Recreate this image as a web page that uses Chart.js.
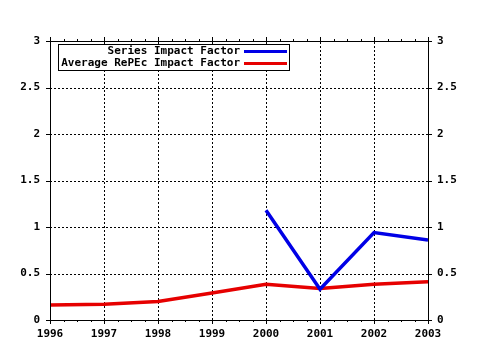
<!DOCTYPE html>
<html>
<head>
<meta charset="utf-8">
<script src="https://cdn.jsdelivr.net/npm/chart.js@4/dist/chart.umd.min.js"></script>
<style>
html,body{margin:0;padding:0;background:#fff;}
canvas{display:block;}
</style>
</head>
<body>
<canvas id="c" width="480" height="350"></canvas>
<script>
const years = [1996, 1997, 1998, 1999, 2000, 2001, 2002, 2003];
const seriesImpact = [null, null, null, null, 1.18, 0.33, 0.94, 0.86];
const averageImpact = [0.16, 0.17, 0.20, 0.29, 0.385, 0.34, 0.385, 0.41];
const yTicks = [0, 0.5, 1, 1.5, 2, 2.5, 3];
const yTickLabels = ['0', '0.5', '1', '1.5', '2', '2.5', '3'];
const xTickLabels = ['1996', '1997', '1998', '1999', '2000', '2001', '2002', '2003'];
const seriesNames = ['Series Impact Factor', 'Average RePEc Impact Factor'];
const seriesColors = ['#0000e6', '#e60000'];

const FONT = '"DejaVu Sans Mono", "Liberation Mono", monospace';

const gridPlugin = {
  id: 'dotgrid',
  beforeDatasetsDraw(chart) {
    const ctx = chart.ctx;
    const a = chart.chartArea;
    const xs = chart.scales.x, ys = chart.scales.y;
    ctx.save();
    ctx.strokeStyle = '#000';
    ctx.lineWidth = 1;
    ctx.setLineDash([2, 2]);
    ctx.beginPath();
    years.forEach(yr => {
      const px = Math.round(xs.getPixelForValue(yr)) + 0.5;
      ctx.moveTo(px, a.bottom); ctx.lineTo(px, a.top);
    });
    yTicks.forEach(v => {
      const py = Math.round(ys.getPixelForValue(v)) + 0.5;
      ctx.moveTo(a.left, py); ctx.lineTo(a.right, py);
    });
    ctx.stroke();
    ctx.restore();
  }
};

const framePlugin = {
  id: 'frame',
  afterDatasetsDraw(chart) {
    const ctx = chart.ctx;
    const a = chart.chartArea;
    const xs = chart.scales.x, ys = chart.scales.y;
    ctx.save();
    ctx.strokeStyle = '#000';
    ctx.lineWidth = 1;
    ctx.strokeRect(Math.round(a.left) + 0.5, Math.round(a.top) + 0.5,
                   Math.round(a.right - a.left), Math.round(a.bottom - a.top));
    ctx.beginPath();
    years.forEach((yr, i) => {
      const px = Math.round(xs.getPixelForValue(yr)) + 0.5;
      ctx.moveTo(px, a.bottom); ctx.lineTo(px, a.bottom + 4);
      ctx.moveTo(px, a.top); ctx.lineTo(px, a.top - 4);
      if (i < years.length - 1) {
        for (let k = 1; k < 4; k++) {
          const mx = Math.round(xs.getPixelForValue(yr + k / 4)) + 0.5;
          ctx.moveTo(mx, a.bottom); ctx.lineTo(mx, a.bottom + 2);
          ctx.moveTo(mx, a.top); ctx.lineTo(mx, a.top - 2);
        }
      }
    });
    yTicks.forEach(v => {
      const py = Math.round(ys.getPixelForValue(v)) + 0.5;
      ctx.moveTo(a.left - 4, py); ctx.lineTo(a.left + 2, py);
      ctx.moveTo(a.right - 2, py); ctx.lineTo(a.right + 4, py);
    });
    ctx.stroke();

    // legend
    const bx = 58.5, by = 44.5, bw = 231, bh = 26;
    ctx.fillStyle = '#fff';
    ctx.fillRect(bx, by, bw, bh);
    ctx.strokeRect(bx, by, bw, bh);
    ctx.font = 'bold 11px ' + FONT;
    ctx.textAlign = 'right';
    ctx.textBaseline = 'middle';
    ctx.fillStyle = '#000';
    const rows = [51, 63];
    chart.data.datasets.forEach((ds, i) => {
      ctx.fillText(ds.label, 240, rows[i]);
      ctx.beginPath();
      ctx.strokeStyle = ds.borderColor;
      ctx.lineWidth = 3;
      ctx.moveTo(244, rows[i] + 0.5);
      ctx.lineTo(287, rows[i] + 0.5);
      ctx.stroke();
    });
    ctx.restore();
  }
};

const setTicks = scale => { scale.ticks = yTicks.map(v => ({ value: v })); };
const yLabel = (v) => { const i = yTicks.indexOf(v); return i >= 0 ? yTickLabels[i] : ''; };

new Chart(document.getElementById('c'), {
  type: 'line',
  data: {
    datasets: [
      {
        label: seriesNames[0],
        data: years.map((yr, i) => ({ x: yr, y: seriesImpact[i] })),
        borderColor: seriesColors[0],
        borderWidth: 3.5,
        pointRadius: 0,
        tension: 0,
        spanGaps: false
      },
      {
        label: seriesNames[1],
        data: years.map((yr, i) => ({ x: yr, y: averageImpact[i] })),
        borderColor: seriesColors[1],
        borderWidth: 3.5,
        pointRadius: 0,
        tension: 0
      }
    ]
  },
  options: {
    responsive: false,
    animation: false,
    layout: { padding: { top: 41, left: 0, right: 0, bottom: 0 } },
    plugins: { legend: { display: false }, tooltip: { enabled: false } },
    scales: {
      x: {
        type: 'linear',
        min: years[0], max: years[years.length - 1],
        afterBuildTicks: s => { s.ticks = years.map(v => ({ value: v })); },
        afterFit: s => { s.height = 30; },
        ticks: {
          callback: v => { const i = years.indexOf(v); return i >= 0 ? xTickLabels[i] : ''; },
          font: { family: FONT, size: 11, weight: 'bold' },
          color: '#000', padding: 8, maxRotation: 0, autoSkip: false
        },
        grid: { display: false, drawTicks: false },
        border: { display: false }
      },
      y: {
        type: 'linear', position: 'left',
        min: 0, max: 3,
        afterBuildTicks: setTicks,
        afterFit: s => { s.width = 50; },
        ticks: {
          callback: yLabel,
          font: { family: FONT, size: 11, weight: 'bold' },
          color: '#000', padding: 10
        },
        grid: { display: false, drawTicks: false },
        border: { display: false }
      },
      y2: {
        type: 'linear', position: 'right',
        min: 0, max: 3,
        afterBuildTicks: setTicks,
        afterFit: s => { s.width = 52; },
        ticks: {
          callback: yLabel,
          font: { family: FONT, size: 11, weight: 'bold' },
          color: '#000', padding: 9
        },
        grid: { display: false, drawTicks: false },
        border: { display: false }
      }
    }
  },
  plugins: [gridPlugin, framePlugin]
});
</script>
</body>
</html>
